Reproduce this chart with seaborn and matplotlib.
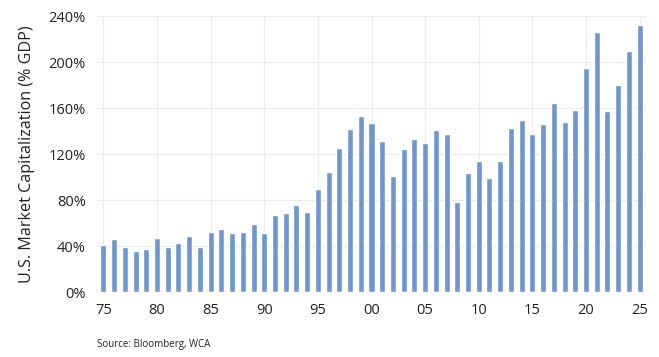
import pandas as pd
import numpy as np
import matplotlib
matplotlib.use("Agg")
import matplotlib.pyplot as plt
import seaborn as sns

# U.S. market cap as % of GDP, 1975-2025
years = list(range(1975, 2026))
mcap_pct = [41, 46.5, 39.5, 36, 37, 47, 39, 43, 49, 39,
            52.5, 54.5, 51.5, 52.5, 59, 51.5, 67, 69, 76, 70,
            90, 104.5, 125, 142, 153, 147, 131.5, 101, 124, 133,
            130, 141, 137, 78, 103.5, 114, 99.5, 114, 142.5, 150,
            137, 146, 164, 147.5, 158, 194.5, 226, 157.5, 180, 210,
            232.5]
tick_years = list(range(1975, 2026, 5))
tick_labels = [f"{y % 100:02d}" for y in tick_years]
y_ticks = [0, 40, 80, 120, 160, 200, 240]

df = pd.DataFrame({"year": [str(y) for y in years], "mcap": mcap_pct})

sns.set_theme(style="white")
plt.rcParams["font.family"] = ["Open Sans", "DejaVu Sans"]

fig = plt.figure(figsize=(6.59, 3.57), dpi=100)
ax = fig.add_axes([97 / 659, 1 - 292 / 357, (646 - 97) / 659, (292 - 16) / 357])

sns.barplot(data=df, x="year", y="mcap", color="#7096CF", saturation=1,
            width=0.56, ax=ax, zorder=3)

ax.set_xlim(-0.6, len(years) - 0.4)
ax.set_ylim(0, 240)
ax.set_yticks(y_ticks)
ax.set_yticklabels([f"{v}%" for v in y_ticks], fontsize=10.5, color="#222222")
ax.set_xticks([years.index(y) for y in tick_years])
ax.set_xticklabels(tick_labels, fontsize=10.5, color="#222222")
ax.tick_params(axis="y", length=0, pad=8)
ax.tick_params(axis="x", length=0, pad=8)

ax.grid(True, axis="both", color="#ececec", linewidth=0.8, zorder=0)
for s in ax.spines.values():
    s.set_visible(False)

ax.set_xlabel("")
ax.set_ylabel("U.S. Market Capitalization (% GDP)", fontsize=11.6, color="#222222", labelpad=10)

fig.text(97 / 659, 1 - 345 / 357, "Source: Bloomberg, WCA", fontsize=7, color="#222222", va="center")

fig.savefig("out.png", dpi=100)
